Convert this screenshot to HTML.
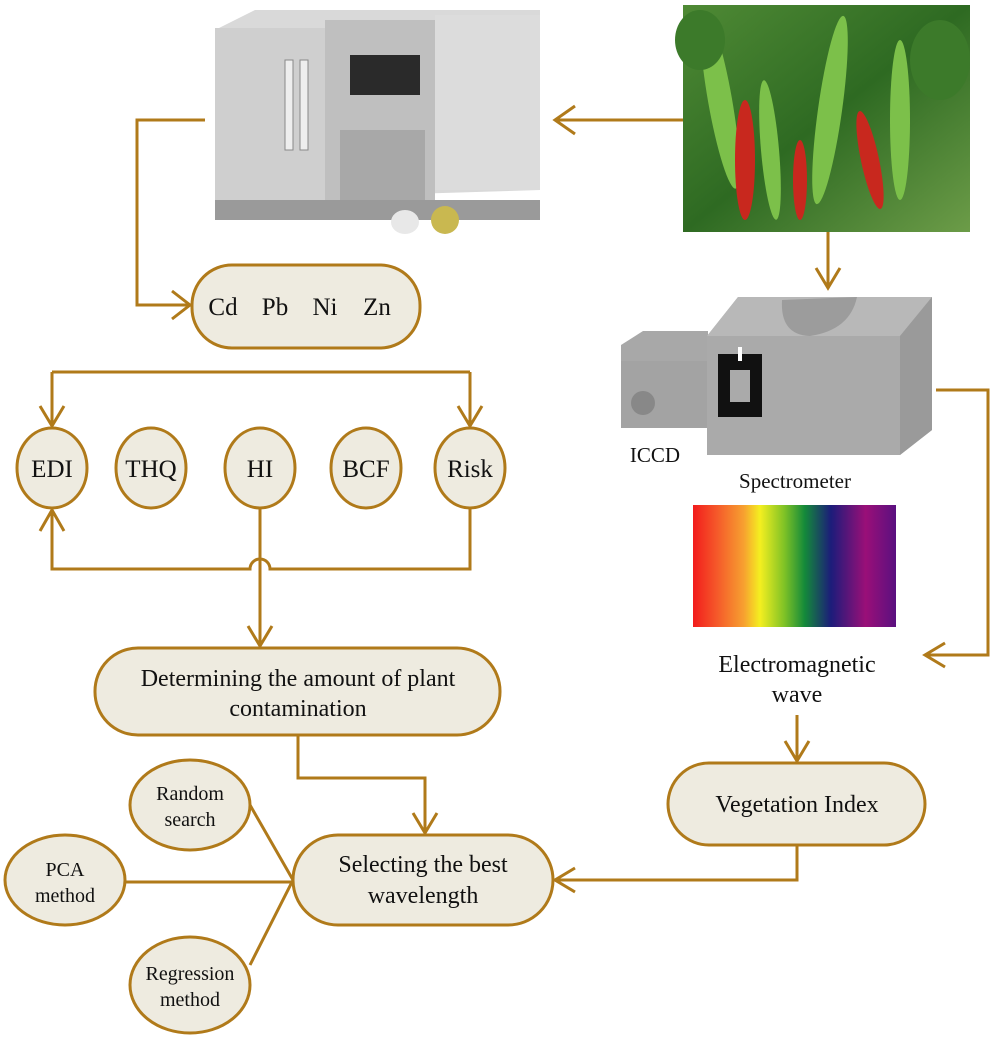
<!DOCTYPE html>
<html><head><meta charset="utf-8"><style>
html,body{margin:0;padding:0;background:#fff}
svg{display:block}
text{font-family:"Liberation Serif",serif;fill:#111}
</style></head><body>
<svg width="1000" height="1039" viewBox="0 0 1000 1039" xmlns="http://www.w3.org/2000/svg">
<defs>
<linearGradient id="sp" x1="0" x2="1" y1="0" y2="0">
<stop offset="0" stop-color="#f21c1c"/><stop offset="0.12" stop-color="#f55a2a"/><stop offset="0.25" stop-color="#f7a030"/><stop offset="0.33" stop-color="#f4ef20"/><stop offset="0.45" stop-color="#7fc226"/><stop offset="0.55" stop-color="#148a3a"/><stop offset="0.68" stop-color="#1c1c7a"/><stop offset="0.85" stop-color="#9a0f78"/><stop offset="1" stop-color="#5a1080"/>
</linearGradient>
<linearGradient id="gr" x1="0" x2="1" y1="0" y2="1"><stop offset="0" stop-color="#4f8a35"/><stop offset="0.5" stop-color="#2e6a22"/><stop offset="1" stop-color="#6c9c48"/></linearGradient>
</defs>
<!-- AAS machine -->
<polygon points="215,30 255,10 540,10 540,190 215,200" fill="#d9d9d9"/>
<rect x="215" y="28" width="110" height="180" fill="#cfcfcf"/>
<rect x="325" y="20" width="110" height="190" fill="#bfbfbf"/>
<rect x="435" y="15" width="105" height="175" fill="#dcdcdc"/>
<rect x="350" y="55" width="70" height="40" fill="#2a2a2a"/>
<rect x="340" y="130" width="85" height="75" fill="#a8a8a8"/>
<rect x="285" y="60" width="8" height="90" fill="#eee" stroke="#888"/>
<rect x="300" y="60" width="8" height="90" fill="#eee" stroke="#888"/>
<rect x="215" y="200" width="325" height="20" fill="#9a9a9a"/>
<ellipse cx="405" cy="222" rx="14" ry="12" fill="#e8e8e8"/>
<ellipse cx="445" cy="220" rx="14" ry="14" fill="#c9b850"/>
<!-- peppers image -->
<rect x="683" y="5" width="287" height="227" fill="url(#gr)"/>
<g fill="#7cc04a"><ellipse cx="720" cy="100" rx="12" ry="90" transform="rotate(-10 720 100)"/><ellipse cx="830" cy="110" rx="12" ry="95" transform="rotate(8 830 110)"/><ellipse cx="900" cy="120" rx="10" ry="80"/><ellipse cx="770" cy="150" rx="9" ry="70" transform="rotate(-5 770 150)"/></g>
<g fill="#c8281e"><ellipse cx="745" cy="160" rx="10" ry="60"/><ellipse cx="870" cy="160" rx="9" ry="50" transform="rotate(-12 870 160)"/><ellipse cx="800" cy="180" rx="7" ry="40"/></g>
<g fill="#3c7a2a"><ellipse cx="940" cy="60" rx="30" ry="40"/><ellipse cx="700" cy="40" rx="25" ry="30"/></g>
<!-- spectrometer -->
<polygon points="621,345 643,331 708,331 708,428 621,428" fill="#a8a8a8"/>
<rect x="621" y="361" width="87" height="67" fill="#a3a3a3"/>
<circle cx="643" cy="403" r="12" fill="#888"/>
<polygon points="707,336 738,297 932,297 932,430 900,455 707,455" fill="#aaaaaa"/>
<polygon points="707,336 738,297 932,297 900,336" fill="#b8b8b8"/>
<polygon points="900,336 932,297 932,430 900,455" fill="#9a9a9a"/>
<path d="M782,300 Q780,335 810,336 Q850,330 857,297 Z" fill="#9c9c9c"/>
<rect x="718" y="354" width="44" height="63" fill="#111"/>
<rect x="730" y="370" width="20" height="32" fill="#aaa"/>
<rect x="738" y="347" width="4" height="14" fill="#fff"/>
<rect x="693" y="505" width="203" height="122" fill="url(#sp)"/>
<text x="655" y="462" font-size="21" text-anchor="middle">ICCD</text>
<text x="795" y="488" font-size="21" text-anchor="middle">Spectrometer</text>
<text x="797" y="672" font-size="24" text-anchor="middle">Electromagnetic</text>
<text x="797" y="702" font-size="24" text-anchor="middle">wave</text>
<!-- connectors -->
<g stroke="#b07a1a" stroke-width="3" fill="none">
<path d="M683,120 H555 M575,106 L555,120 L575,134"/>
<path d="M205,120 H137 V305 H190 M172,291 L190,305 L172,319"/>
<path d="M52,372 H470 M52,372 V426 M40,406 L52,426 L64,406 M470,372 V426 M458,406 L470,426 L482,406"/>
<path d="M470,508 V569 H270 A10,10 0 0 0 250,569 H52 V510 M40,531 L52,510 L64,531"/>
<path d="M260,508 V646 M248,626 L260,646 L272,626"/>
<path d="M298,735 V778 H425 V833 M413,813 L425,833 L437,813"/>
<path d="M828,232 V288 M816,268 L828,288 L840,268"/>
<path d="M936,390 H988 V655 H925 M945,643 L925,655 L945,667"/>
<path d="M797,715 V761 M785,741 L797,761 L809,741"/>
<path d="M797,845 V880 H555 M575,868 L555,880 L575,892"/>
<path d="M250,805 L293,880 M125,882 H293 M250,965 L293,880"/>
</g>
<!-- nodes -->
<g stroke="#b07a1a" stroke-width="3" fill="#eeebe0">
<rect x="192" y="265" width="228" height="83" rx="40"/>
<ellipse cx="52" cy="468" rx="35" ry="40"/>
<ellipse cx="151" cy="468" rx="35" ry="40"/>
<ellipse cx="260" cy="468" rx="35" ry="40"/>
<ellipse cx="366" cy="468" rx="35" ry="40"/>
<ellipse cx="470" cy="468" rx="35" ry="40"/>
<rect x="95" y="648" width="405" height="87" rx="43"/>
<rect x="293" y="835" width="260" height="90" rx="45"/>
<rect x="668" y="763" width="257" height="82" rx="41"/>
<ellipse cx="190" cy="805" rx="60" ry="45"/>
<ellipse cx="65" cy="880" rx="60" ry="45"/>
<ellipse cx="190" cy="985" rx="60" ry="48"/>
</g>
<g font-size="25" text-anchor="middle">
<text x="223" y="315">Cd</text>
<text x="275" y="315">Pb</text>
<text x="325" y="315">Ni</text>
<text x="377" y="315">Zn</text>
<text x="52" y="477">EDI</text>
<text x="151" y="477">THQ</text>
<text x="260" y="477">HI</text>
<text x="366" y="477">BCF</text>
<text x="470" y="477">Risk</text>
</g>
<g font-size="24" text-anchor="middle">
<text x="298" y="686">Determining the amount of plant</text>
<text x="298" y="716">contamination</text>
<text x="423" y="872">Selecting the best</text>
<text x="423" y="903">wavelength</text>
<text x="797" y="812">Vegetation Index</text>
</g>
<g font-size="20" text-anchor="middle">
<text x="190" y="800">Random</text>
<text x="190" y="826">search</text>
<text x="65" y="876">PCA</text>
<text x="65" y="902">method</text>
<text x="190" y="980">Regression</text>
<text x="190" y="1006">method</text>
</g>
</svg>
</body></html>
